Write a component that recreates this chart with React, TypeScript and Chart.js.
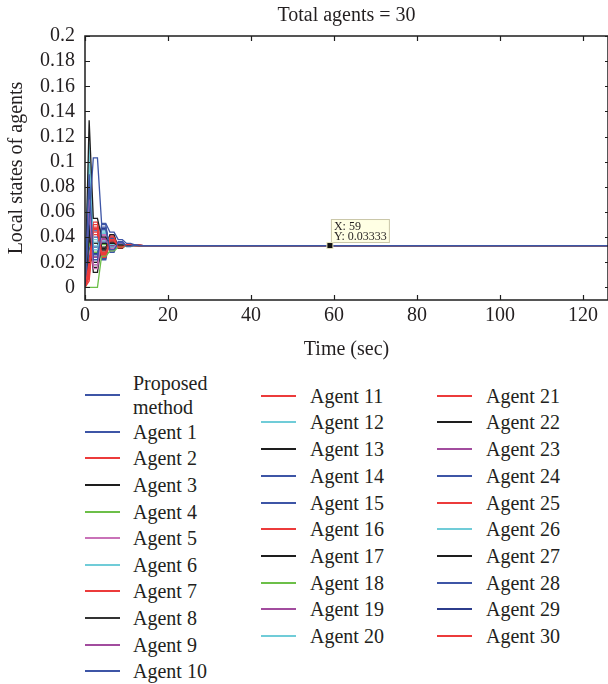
import React, { useEffect, useRef } from "react";
import { Chart, registerables } from "chart.js";

Chart.register(...registerables);

// ---- data ----
const TIME = [0, 1, 2, 3, 4, 5, 6, 7, 8, 9, 10, 11, 12, 13, 14, 126];
const X_TICKS = [0, 20, 40, 60, 80, 100, 120];
const Y_TICKS = [0, 0.02, 0.04, 0.06, 0.08, 0.1, 0.12, 0.14, 0.16, 0.18, 0.2];
const CHART_TITLE = "Total agents = 30";
const X_TITLE = "Time (sec)";
const Y_TITLE = "Local states of agents";
const MARK_X = 59;
const MARK_Y = 0.03333;

const PROPOSED = [0.005, 0.054, 0.103, 0.103, 0.051, 0.051, 0.044, 0.044, 0.038, 0.038, 0.035, 0.035, 0.0338, 0.0335, 0.03333, 0.03333];
const AGENT_1 = [0, 0.09, 0.022, 0.022, 0.046, 0.046, 0.03, 0.03, 0.0355, 0.0355, 0.0328, 0.0328, 0.0336, 0.0333, 0.03333, 0.03333];
const AGENT_2 = [0, 0.01, 0.05, 0.05, 0.026, 0.026, 0.038, 0.038, 0.032, 0.032, 0.034, 0.034, 0.0332, 0.0334, 0.03333, 0.03333];
const AGENT_3 = [0, 0.133, 0.055, 0.055, 0.04, 0.04, 0.035, 0.035, 0.0338, 0.0338, 0.0335, 0.0335, 0.0334, 0.0333, 0.03333, 0.03333];
const AGENT_4 = [0, 0, 0, 0, 0.025, 0.025, 0.029, 0.029, 0.032, 0.032, 0.033, 0.033, 0.0333, 0.0333, 0.03333, 0.03333];
const AGENT_5 = [0, 0.07, 0.015, 0.015, 0.042, 0.042, 0.031, 0.031, 0.035, 0.035, 0.033, 0.033, 0.0335, 0.0333, 0.03333, 0.03333];
const AGENT_6 = [0, 0.115, 0.03, 0.03, 0.044, 0.044, 0.032, 0.032, 0.0345, 0.0345, 0.0332, 0.0332, 0.0334, 0.0333, 0.03333, 0.03333];
const AGENT_7 = [0, 0.02, 0.047, 0.047, 0.024, 0.024, 0.037, 0.037, 0.0318, 0.0318, 0.0342, 0.0342, 0.0331, 0.0334, 0.03333, 0.03333];
const AGENT_8 = [0, 0.04, 0.035, 0.035, 0.03, 0.03, 0.036, 0.036, 0.0325, 0.0325, 0.0338, 0.0338, 0.0332, 0.0333, 0.03333, 0.03333];
const AGENT_9 = [0, 0.06, 0.018, 0.018, 0.038, 0.038, 0.033, 0.033, 0.0345, 0.0345, 0.0331, 0.0331, 0.0334, 0.0333, 0.03333, 0.03333];
const AGENT_10 = [0, 0.08, 0.026, 0.026, 0.05, 0.05, 0.028, 0.028, 0.0365, 0.0365, 0.0325, 0.0325, 0.0337, 0.0333, 0.03333, 0.03333];
const AGENT_11 = [0, 0.005, 0.044, 0.044, 0.028, 0.028, 0.04, 0.04, 0.0315, 0.0315, 0.0345, 0.0345, 0.0331, 0.0334, 0.03333, 0.03333];
const AGENT_12 = [0, 0.1, 0.038, 0.038, 0.045, 0.045, 0.03, 0.03, 0.035, 0.035, 0.033, 0.033, 0.0335, 0.0333, 0.03333, 0.03333];
const AGENT_13 = [0, 0.05, 0.012, 0.012, 0.035, 0.035, 0.033, 0.033, 0.034, 0.034, 0.0332, 0.0332, 0.0334, 0.0333, 0.03333, 0.03333];
const AGENT_14 = [0, 0.03, 0.04, 0.04, 0.022, 0.022, 0.039, 0.039, 0.032, 0.032, 0.034, 0.034, 0.0332, 0.0334, 0.03333, 0.03333];
const AGENT_15 = [0, 0.065, 0.032, 0.032, 0.036, 0.036, 0.031, 0.031, 0.0352, 0.0352, 0.0329, 0.0329, 0.0335, 0.0333, 0.03333, 0.03333];
const AGENT_16 = [0, 0.015, 0.052, 0.052, 0.03, 0.03, 0.036, 0.036, 0.033, 0.033, 0.0337, 0.0337, 0.0333, 0.0333, 0.03333, 0.03333];
const AGENT_17 = [0, 0.025, 0.02, 0.02, 0.029, 0.029, 0.042, 0.042, 0.031, 0.031, 0.0343, 0.0343, 0.0331, 0.0334, 0.03333, 0.03333];
const AGENT_18 = [0, 0.035, 0.028, 0.028, 0.034, 0.034, 0.035, 0.035, 0.0335, 0.0335, 0.0333, 0.0333, 0.0333, 0.0333, 0.03333, 0.03333];
const AGENT_19 = [0, 0.075, 0.024, 0.024, 0.041, 0.041, 0.029, 0.029, 0.036, 0.036, 0.0327, 0.0327, 0.0336, 0.0333, 0.03333, 0.03333];
const AGENT_20 = [0, 0.085, 0.033, 0.033, 0.043, 0.043, 0.034, 0.034, 0.0348, 0.0348, 0.0331, 0.0331, 0.0334, 0.0333, 0.03333, 0.03333];
const AGENT_21 = [0, 0.012, 0.048, 0.048, 0.025, 0.025, 0.038, 0.038, 0.0325, 0.0325, 0.0339, 0.0339, 0.0332, 0.0334, 0.03333, 0.03333];
const AGENT_22 = [0, 0.045, 0.016, 0.016, 0.032, 0.032, 0.037, 0.037, 0.0328, 0.0328, 0.0336, 0.0336, 0.0333, 0.0333, 0.03333, 0.03333];
const AGENT_23 = [0, 0.055, 0.02, 0.02, 0.039, 0.039, 0.03, 0.03, 0.0352, 0.0352, 0.033, 0.033, 0.0335, 0.0333, 0.03333, 0.03333];
const AGENT_24 = [0, 0.095, 0.03, 0.03, 0.048, 0.048, 0.032, 0.032, 0.0358, 0.0358, 0.0328, 0.0328, 0.0336, 0.0333, 0.03333, 0.03333];
const AGENT_25 = [0, 0.008, 0.042, 0.042, 0.027, 0.027, 0.041, 0.041, 0.0318, 0.0318, 0.0341, 0.0341, 0.0332, 0.0334, 0.03333, 0.03333];
const AGENT_26 = [0, 0.105, 0.036, 0.036, 0.037, 0.037, 0.033, 0.033, 0.0342, 0.0342, 0.0332, 0.0332, 0.0334, 0.0333, 0.03333, 0.03333];
const AGENT_27 = [0, 0.038, 0.024, 0.024, 0.031, 0.031, 0.039, 0.039, 0.0322, 0.0322, 0.034, 0.034, 0.0332, 0.0334, 0.03333, 0.03333];
const AGENT_28 = [0, 0.06, 0.045, 0.045, 0.023, 0.023, 0.04, 0.04, 0.0315, 0.0315, 0.0342, 0.0342, 0.0332, 0.0334, 0.03333, 0.03333];
const AGENT_29 = [0, 0.07, 0.027, 0.027, 0.047, 0.047, 0.031, 0.031, 0.0355, 0.0355, 0.0329, 0.0329, 0.0335, 0.0333, 0.03333, 0.03333];
const AGENT_30 = [0, 0.018, 0.046, 0.046, 0.024, 0.024, 0.036, 0.036, 0.0322, 0.0322, 0.0339, 0.0339, 0.0332, 0.0334, 0.03333, 0.03333];

const SERIES_NAMES = [
  "Proposed method",
  "Agent 1", "Agent 2", "Agent 3", "Agent 4", "Agent 5", "Agent 6", "Agent 7", "Agent 8", "Agent 9", "Agent 10",
  "Agent 11", "Agent 12", "Agent 13", "Agent 14", "Agent 15", "Agent 16", "Agent 17", "Agent 18", "Agent 19", "Agent 20",
  "Agent 21", "Agent 22", "Agent 23", "Agent 24", "Agent 25", "Agent 26", "Agent 27", "Agent 28", "Agent 29", "Agent 30",
];
const SERIES_VALUES = [
  PROPOSED,
  AGENT_1, AGENT_2, AGENT_3, AGENT_4, AGENT_5, AGENT_6, AGENT_7, AGENT_8, AGENT_9, AGENT_10,
  AGENT_11, AGENT_12, AGENT_13, AGENT_14, AGENT_15, AGENT_16, AGENT_17, AGENT_18, AGENT_19, AGENT_20,
  AGENT_21, AGENT_22, AGENT_23, AGENT_24, AGENT_25, AGENT_26, AGENT_27, AGENT_28, AGENT_29, AGENT_30,
];

// ---- styles ----
const BLUE = "#3d55a6";
const RED = "#ec3b3b";
const BLACK = "#1e1e1e";
const GREEN = "#6cbf48";
const PINK = "#c972b8";
const CYAN = "#70ccd8";
const GRAY = "#333333";
const PURPLE = "#a24c9e";
const NAVY = "#2c3c8c";
const SERIES_COLORS = [
  BLUE,
  BLUE, RED, BLACK, GREEN, PINK, CYAN, RED, GRAY, PURPLE, BLUE,
  RED, CYAN, BLACK, BLUE, BLUE, RED, BLACK, GREEN, PURPLE, CYAN,
  RED, BLACK, PURPLE, BLUE, RED, CYAN, BLACK, BLUE, NAVY, RED,
];

const FONT = '"Liberation Serif", "Times New Roman", serif';
const FS = 20;
const TEXT = "#231f20";

const framePlugin = {
  id: "frameAndNotes",
  afterDraw(chart: any) {
    const { ctx, chartArea, scales } = chart;
    const { left, right, top, bottom } = chartArea;
    const xs = scales.x;
    const ys = scales.y;
    ctx.save();
    ctx.strokeStyle = BLACK;
    ctx.lineWidth = 1.5;
    ctx.strokeRect(left, top, right - left, bottom - top);
    ctx.lineWidth = 1.2;
    ctx.beginPath();
    X_TICKS.forEach((v) => {
      const px = Math.round(xs.getPixelForValue(v)) + 0.5;
      ctx.moveTo(px, bottom);
      ctx.lineTo(px, bottom - 5);
      ctx.moveTo(px, top);
      ctx.lineTo(px, top + 5);
    });
    Y_TICKS.forEach((v) => {
      const py = Math.round(ys.getPixelForValue(v)) + 0.5;
      ctx.moveTo(left, py);
      ctx.lineTo(left + 5, py);
      ctx.moveTo(right, py);
      ctx.lineTo(right - 3, py);
    });
    ctx.stroke();

    // title
    ctx.fillStyle = TEXT;
    ctx.font = `${FS}px ${FONT}`;
    ctx.textAlign = "center";
    ctx.textBaseline = "middle";
    ctx.fillText(CHART_TITLE, (left + right) / 2, 16);

    // data tip
    const mx = xs.getPixelForValue(MARK_X);
    const my = ys.getPixelForValue(MARK_Y);
    ctx.fillStyle = "#ffffe4";
    ctx.strokeStyle = "#c9c6a8";
    ctx.lineWidth = 1;
    ctx.fillRect(mx + 1.5, my - 26, 58, 23);
    ctx.strokeRect(mx + 1.5, my - 26, 58, 23);
    ctx.fillStyle = TEXT;
    ctx.font = `12px ${FONT}`;
    ctx.textAlign = "left";
    ctx.fillText(`X: ${MARK_X}`, mx + 4, my - 19);
    ctx.fillText(`Y: ${MARK_Y}`, mx + 4, my - 8.5);
    ctx.fillStyle = "#e8e4c0";
    ctx.fillRect(mx - 3.5, my - 3.5, 7, 7);
    ctx.fillStyle = "#111";
    ctx.fillRect(mx - 2.5, my - 2.5, 5, 5);
    ctx.restore();
  },
};

function ChartCanvas() {
  const ref = useRef<HTMLCanvasElement | null>(null);
  useEffect(() => {
    if (!ref.current) return;
    const datasets = SERIES_VALUES.map((vals, i) => ({
      label: SERIES_NAMES[i],
      data: TIME.map((t, k) => ({ x: t, y: vals[k] })),
      borderColor: SERIES_COLORS[i],
      backgroundColor: SERIES_COLORS[i],
      borderWidth: 1.3,
      pointRadius: 0,
      tension: 0,
      fill: false,
    }));
    const chart = new Chart(ref.current, {
      type: "line",
      data: { datasets },
      options: {
        animation: false,
        responsive: false,
        events: [],
        layout: { padding: { top: 36, right: 0, bottom: 0, left: 0 } },
        plugins: {
          legend: { display: false },
          tooltip: { enabled: false },
          title: { display: false },
        },
        scales: {
          x: {
            type: "linear",
            min: 0,
            max: 126,
            grid: { display: false, drawTicks: false },
            border: { display: false },
            afterBuildTicks: (s: any) => {
              s.ticks = X_TICKS.map((v) => ({ value: v }));
            },
            afterFit: (s: any) => {
              s.height = 70;
            },
            ticks: {
              font: { family: FONT, size: FS },
              color: TEXT,
              padding: 4,
              maxRotation: 0,
              autoSkip: false,
            },
            title: {
              display: true,
              text: X_TITLE,
              font: { family: FONT, size: FS },
              color: TEXT,
              padding: { top: 0, bottom: 8 },
            },
          },
          y: {
            type: "linear",
            min: -0.01,
            max: 0.2,
            grid: { display: false, drawTicks: false },
            border: { display: false },
            afterBuildTicks: (s: any) => {
              s.ticks = Y_TICKS.map((v) => ({ value: v }));
            },
            afterFit: (s: any) => {
              s.width = 85;
            },
            ticks: {
              font: { family: FONT, size: FS },
              color: TEXT,
              padding: 10,
              autoSkip: false,
              callback: (v: any) => String(Number(Number(v).toFixed(2))),
            },
            title: {
              display: true,
              text: Y_TITLE,
              font: { family: FONT, size: FS },
              color: TEXT,
              padding: { top: 5, bottom: 0 },
            },
          },
        },
      },
      plugins: [framePlugin],
    });
    return () => chart.destroy();
  }, []);
  return <canvas ref={ref} width={608} height={370} style={{ position: "absolute", left: 0, top: 0 }} />;
}

const LEGEND_COLS = [
  { lineX: 85, textX: 133 },
  { lineX: 261, textX: 310 },
  { lineX: 437, textX: 486 },
];

function legendPos(i: number) {
  if (i === 0) return { col: 0, y: 395 };
  if (i <= 10) return { col: 0, y: 431.7 + (i - 1) * 26.6 };
  if (i <= 20) return { col: 1, y: 395.7 + (i - 11) * 26.7 };
  return { col: 2, y: 395.7 + (i - 21) * 26.7 };
}

function Legend() {
  return (
    <>
      {SERIES_NAMES.map((name, i) => {
        const { col, y } = legendPos(i);
        const c = LEGEND_COLS[col];
        const twoLine = i === 0;
        return (
          <React.Fragment key={name}>
            <div
              style={{
                position: "absolute",
                left: c.lineX,
                top: y - 1,
                width: 35,
                height: 2,
                background: SERIES_COLORS[i],
              }}
            />
            <div
              style={{
                position: "absolute",
                left: c.textX,
                top: twoLine ? y - 24 : y - 12,
                width: twoLine ? 100 : 120,
                lineHeight: "24px",
                fontFamily: FONT,
                fontSize: FS,
                color: TEXT,
                whiteSpace: twoLine ? "normal" : "nowrap",
              }}
            >
              {twoLine ? (
                <>
                  Proposed
                  <br />
                  method
                </>
              ) : (
                name
              )}
            </div>
          </React.Fragment>
        );
      })}
    </>
  );
}

export default function App() {
  return (
    <div
      style={{
        position: "absolute",
        left: 0,
        top: 0,
        width: 608,
        height: 684,
        background: "#fff",
        overflow: "hidden",
      }}
    >
      <ChartCanvas />
      <Legend />
    </div>
  );
}
